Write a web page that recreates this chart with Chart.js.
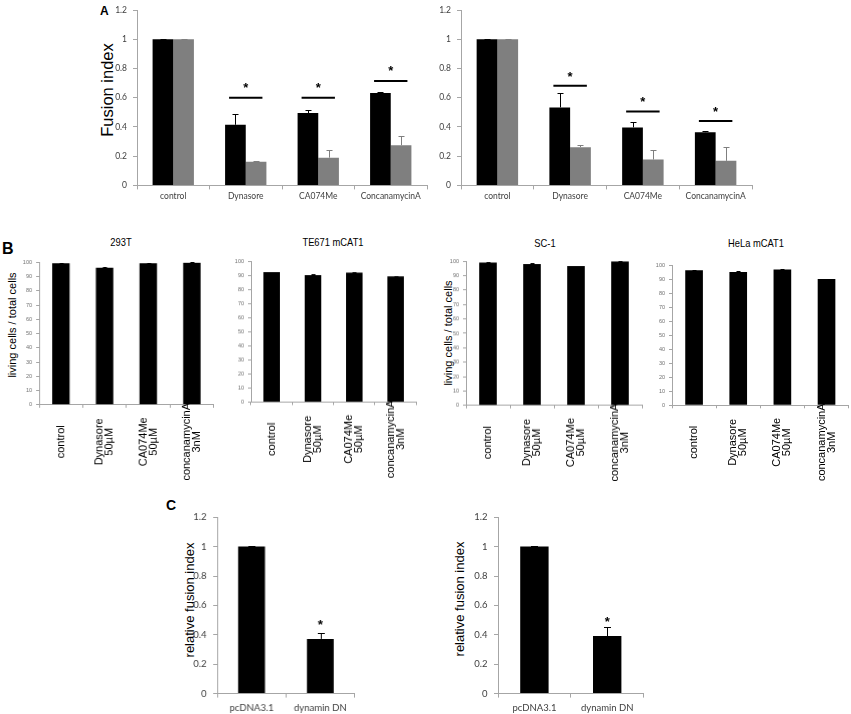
<!DOCTYPE html>
<html><head><meta charset="utf-8">
<script src="https://cdn.jsdelivr.net/npm/chart.js@4.4.0/dist/chart.umd.min.js"></script>
<style>
html,body{margin:0;padding:0;background:#fff}
body{width:851px;height:714px;position:relative;overflow:hidden;font-family:"Liberation Sans",Arial,sans-serif}
.box{position:absolute}
.txt{position:absolute;white-space:nowrap;color:#000;line-height:1}
.rot{transform:translate(-50%,-50%) rotate(-90deg)}
.ctr{transform:translate(-50%,-50%) scaleX(0.85)}
</style></head><body>

<div class="txt" style="left:100px;top:5.4px;font-size:12px;font-weight:bold">A</div>
<div class="txt" style="left:2px;top:241px;font-size:16px;font-weight:bold">B</div>
<div class="txt" style="left:166px;top:497.5px;font-size:14px;font-weight:bold">C</div>

<div class="txt rot" style="left:106.5px;top:90px;font-size:16.5px">Fusion index</div>

<div class="txt ctr" style="left:121px;top:242px;font-size:11px">293T</div>
<div class="txt ctr" style="left:333px;top:242px;font-size:11px">TE671 mCAT1</div>
<div class="txt ctr" style="left:545px;top:243px;font-size:11px">SC-1</div>
<div class="txt ctr" style="left:756px;top:243px;font-size:11px">HeLa mCAT1</div>
<div class="txt rot" style="left:11.5px;top:325px;font-size:11px">living cells / total cells</div>
<div class="txt rot" style="left:448px;top:333px;font-size:11px">living cells / total cells</div>

<div class="txt rot" style="left:189px;top:600px;font-size:13px">relative fusion index</div>
<div class="txt rot" style="left:459px;top:599px;font-size:13px">relative fusion index</div>

<script>
// ---------- DATA ----------
const catsA = ['control', 'Dynasore', 'CA074Me', 'ConcanamycinA'];
const a1Black    = [1.0, 0.415, 0.495, 0.632];
const a1BlackErr = [0.003, 0.073, 0.02, 0.005];
const a1Gray     = [1.0, 0.162, 0.19, 0.275];
const a1GrayErr  = [0.003, 0.003, 0.05, 0.063];
const a1Sig      = [null, 0.60, 0.60, 0.715];

const a2Black    = [1.0, 0.534, 0.397, 0.364];
const a2BlackErr = [0.003, 0.096, 0.035, 0.008];
const a2Gray     = [1.0, 0.262, 0.177, 0.168];
const a2GrayErr  = [0.003, 0.013, 0.063, 0.094];
const a2Sig      = [null, 0.683, 0.506, 0.44];

const catsB = [['control'], ['Dynasore', '50µM'], ['CA074Me', '50µM'], ['concanamycinA', '3nM']];
const b293T  = [99.3, 96.1, 99.3, 99.6];
const bTE671 = [92.3, 90.3, 92.0, 89.3];
const bSC1   = [99.1, 98.2, 96.7, 100.0];
const bHeLa  = [96.5, 95.3, 97.0, 90.2];
const bErr   = [0.3, 0.3, 0.3, 0.3];

const catsC = ['pcDNA3.1', 'dynamin DN'];
const c1     = [1.0, 0.372];
const c1Err  = [0.002, 0.038];
const c1Star = [null, 0.49];
const c2     = [1.0, 0.391];
const c2Err  = [0.002, 0.059];
const c2Star = [null, 0.51];

// ---------- HELPERS ----------
Chart.defaults.font.family = 'Lato';
const axisColor = '#a6a6a6';
const tickColor = '#404040';
const BLACK = '#000000', GRAY = '#7f7f7f';

function makeExtras(ex) {
  return {
    id: 'extras',
    afterDatasetsDraw(chart) {
      const ctx = chart.ctx, xs = chart.scales.x, ys = chart.scales.y;
      const n = chart.data.labels.length, catW = (xs.right - xs.left) / n;
      ctx.save();
      chart.data.datasets.forEach((ds, di) => {
        if (!ds.errors) return;
        const meta = chart.getDatasetMeta(di);
        ctx.strokeStyle = ds.errColor; ctx.lineWidth = 1;
        meta.data.forEach((bar, i) => {
          const e = ds.errors[i]; if (e == null) return;
          const yb = ys.getPixelForValue(ds.data[i]);
          const yt = Math.round(ys.getPixelForValue(ds.data[i] + e)) + 0.5;
          const x = Math.round(bar.x) + 0.5;
          ctx.beginPath();
          ctx.moveTo(x, yb); ctx.lineTo(x, yt);
          ctx.moveTo(x - ex.cap, yt); ctx.lineTo(x + ex.cap, yt);
          ctx.stroke();
        });
      });
      ctx.fillStyle = '#000';
      ctx.textAlign = 'center'; ctx.textBaseline = 'alphabetic';
      ctx.font = 'bold 13px "Liberation Sans"';
      if (ex.sig) {
        ctx.strokeStyle = '#000'; ctx.lineWidth = 2;
        ex.sig.forEach((v, i) => {
          if (v == null) return;
          const cx = xs.getPixelForValue(i), y = ys.getPixelForValue(v);
          ctx.beginPath();
          ctx.moveTo(cx - ex.sigHalf * catW, y); ctx.lineTo(cx + ex.sigHalf * catW, y);
          ctx.stroke();
          ctx.fillText('*', cx, y - ex.starGap + 7);
        });
      }
      if (ex.stars) {
        ex.stars.forEach((v, i) => {
          if (v == null) return;
          ctx.fillText('*', xs.getPixelForValue(i), ys.getPixelForValue(v) + 7);
        });
      }
      if (ex.rot) {
        ctx.font = '11px "Liberation Sans"';
        ctx.textBaseline = 'middle';
        chart.data.labels.forEach((lines, i) => {
          const cx = xs.getPixelForValue(i);
          const k = lines.length;
          lines.forEach((t, j) => {
            ctx.save();
            ctx.translate(cx + (j - (k - 1) / 2) * ex.rot.lineH, xs.top + ex.rot.center);
            ctx.rotate(-Math.PI / 2);
            ctx.fillText(t, 0, 0);
            ctx.restore();
          });
        });
      }
      ctx.restore();
    }
  };
}

function build(o) {
  const left = o.plotL - o.yW, top = o.plotT - o.padT;
  const w = o.plotR - left + o.padR, h = o.plotB - top + o.xH;
  const div = document.createElement('div');
  div.className = 'box';
  Object.assign(div.style, {left: left + 'px', top: top + 'px', width: w + 'px', height: h + 'px'});
  const cv = document.createElement('canvas');
  div.appendChild(cv); document.body.appendChild(div);
  return new Chart(cv, {
    type: 'bar',
    data: {labels: o.labels, datasets: o.datasets},
    options: {
      responsive: true, maintainAspectRatio: false, animation: false,
      layout: {padding: {top: o.padT, right: o.padR, left: 0, bottom: 0}},
      plugins: {legend: {display: false}, tooltip: {enabled: false}, title: {display: false}},
      datasets: {bar: {categoryPercentage: o.catPct, barPercentage: o.barPct, borderWidth: 0}},
      scales: {
        x: {
          type: 'category', offset: true,
          grid: {display: true, drawOnChartArea: false, drawTicks: true, tickLength: o.tl, color: axisColor, offset: true},
          border: {display: true, color: axisColor},
          ticks: {display: o.xTicks, font: o.xFont, color: tickColor, padding: o.xPad, maxRotation: 0, minRotation: 0, autoSkip: false},
          afterFit: s => { s.height = o.xH; }
        },
        y: {
          min: 0, max: o.yMax,
          grid: {display: true, drawOnChartArea: false, drawTicks: true, tickLength: o.tl, color: axisColor},
          border: {display: true, color: axisColor},
          ticks: {stepSize: o.step, font: o.yFont, color: o.yColor, padding: o.yPad, callback: v => String(Math.round(v * 10) / 10)},
          afterFit: s => { s.width = o.yW; }
        }
      }
    },
    plugins: [makeExtras(o.extras)]
  });
}

function pairSets(bl, blErr, gr, grErr) {
  return [
    {data: bl, backgroundColor: BLACK, errors: blErr, errColor: BLACK},
    {data: gr, backgroundColor: GRAY, errors: grErr, errColor: GRAY}
  ];
}

// ---------- PANEL A ----------
const aCommon = {plotT: 4.6, plotB: 185, yW: 30, xH: 22, padT: 6, padR: 3, tl: 4,
  yMax: 1.2, step: 0.2, catPct: 0.57, barPct: 1.0, xTicks: true,
  xFont: {family: 'Lato', size: 8.5}, yFont: {family: 'Lato', size: 8.5}, yColor: tickColor,
  xPad: 2, yPad: 6, labels: catsA};
build(Object.assign({}, aCommon, {plotL: 137, plotR: 427,
  datasets: pairSets(a1Black, a1BlackErr, a1Gray, a1GrayErr),
  extras: {cap: 3, sig: a1Sig, sigHalf: 0.23, starGap: 13}}));
build(Object.assign({}, aCommon, {plotL: 461, plotR: 752,
  datasets: pairSets(a2Black, a2BlackErr, a2Gray, a2GrayErr),
  extras: {cap: 3, sig: a2Sig, sigHalf: 0.23, starGap: 12}}));

// ---------- PANEL B ----------
const bCommon = {yW: 16, xH: 92, padT: 4, padR: 2, tl: 3, yMax: 100, step: 10,
  catPct: 1.0, barPct: 0.4, xTicks: false,
  xFont: {family: 'Liberation Sans', size: 11}, yFont: {family: 'Liberation Sans', size: 5.5}, yColor: '#707070',
  xPad: 2, yPad: 4, labels: catsB};
const bEx = {cap: 2, rot: {lineH: 10, center: 37}};
build(Object.assign({}, bCommon, {plotL: 39.3, plotR: 213, plotT: 258.7, plotB: 404.5,
  datasets: [{data: b293T, backgroundColor: BLACK, errors: bErr, errColor: BLACK}], extras: bEx}));
build(Object.assign({}, bCommon, {plotL: 250.7, plotR: 416, plotT: 258.3, plotB: 401.7,
  datasets: [{data: bTE671, backgroundColor: BLACK, errors: bErr, errColor: BLACK}], extras: bEx}));
build(Object.assign({}, bCommon, {plotL: 465.7, plotR: 641.7, plotT: 258.3, plotB: 405,
  datasets: [{data: bSC1, backgroundColor: BLACK, errors: bErr, errColor: BLACK}], extras: bEx}));
build(Object.assign({}, bCommon, {plotL: 671.7, plotR: 848.3, plotT: 261.7, plotB: 405,
  datasets: [{data: bHeLa, backgroundColor: BLACK, errors: bErr, errColor: BLACK}], extras: bEx}));

// ---------- PANEL C ----------
const cCommon = {plotT: 510.7, plotB: 693.3, yW: 30, xH: 20.7, padT: 6, padR: 3, tl: 4,
  yMax: 1.2, step: 0.2, catPct: 1.0, barPct: 0.39, xTicks: true,
  xFont: {family: 'Lato', size: 9.5}, yFont: {family: 'Lato', size: 9.5}, yColor: tickColor,
  xPad: 4.5, yPad: 6.5, labels: catsC};
build(Object.assign({}, cCommon, {plotL: 217.3, plotR: 354,
  datasets: [{data: c1, backgroundColor: BLACK, errors: c1Err, errColor: BLACK}],
  extras: {cap: 3.5, stars: c1Star}}));
build(Object.assign({}, cCommon, {plotL: 497.7, plotR: 643.3,
  datasets: [{data: c2, backgroundColor: BLACK, errors: c2Err, errColor: BLACK}],
  extras: {cap: 3.5, stars: c2Star}}));
</script>
</body></html>
